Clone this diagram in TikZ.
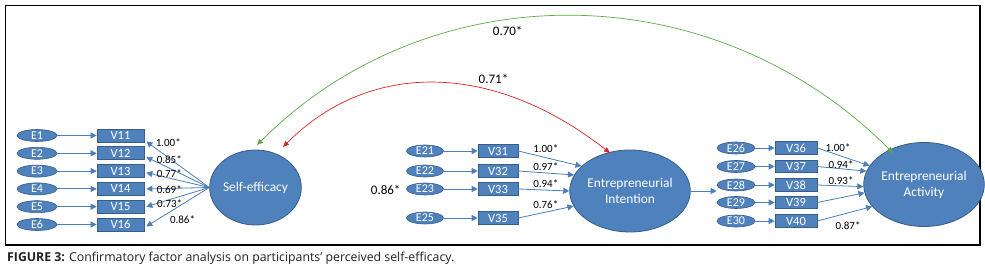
\documentclass[tikz,border=0pt]{standalone}
\usepackage{fontspec}
\setmainfont{Carlito}
\newfontfamily\capfont{Open Sans}
\usetikzlibrary{shapes.geometric,arrows.meta}
\definecolor{nfill}{RGB}{79,129,189}
\definecolor{ndraw}{RGB}{56,93,138}
\definecolor{lblue}{RGB}{74,126,187}
\definecolor{agreen}{RGB}{90,170,70}
\definecolor{ared}{RGB}{215,35,35}
\definecolor{captxt}{RGB}{35,31,32}
\begin{document}
\begin{tikzpicture}[x=1pt,y=-1pt,
  eell/.style={ellipse, fill=nfill, draw=ndraw, line width=0.6pt, text=white, inner sep=0pt, minimum height=12pt, font=\fontsize{12}{12}\selectfont},
  vbox/.style={rectangle, fill=nfill, draw=ndraw, line width=0.6pt, text=white, inner sep=0pt, minimum height=13pt, font=\fontsize{12.5}{12.5}\selectfont},
  lat/.style={ellipse, fill=nfill, draw=ndraw, line width=0.8pt, text=white, inner sep=0pt, align=center, font=\fontsize{13.4}{16}\selectfont},
  arr/.style={draw=lblue, line width=0.8pt, -{Triangle[length=6pt,width=6pt]}},
  lab/.style={font=\fontsize{11}{11}\selectfont, inner sep=0pt},
  biglab/.style={font=\fontsize{13}{13}\selectfont, inner sep=0pt},
  corr/.style={line width=0.7pt, {Triangle[length=6pt,width=5pt]}-{Triangle[length=6pt,width=5pt]}}
]
\useasboundingbox (0,0) rectangle (985,275);
\draw[line width=1.2pt] (5.5,5.5) rectangle (980,245);

% ---------- Self-efficacy ----------
\node[lat, minimum width=89pt, minimum height=75pt] (se) at (255.5,187.5) {Self-efficacy};
\foreach \i/\y/\s in {1/135.5/-6, 2/153.3/-3.7, 3/171.1/-1.6, 4/188.9/0, 5/206.7/0, 6/224.5/-2}{
  \node[eell, minimum width=40pt] (e\i) at (37,\y) {E\i};
  \node[vbox, minimum width=47pt] (v1\i) at (120.5,\y) {V1\i};
  \draw[arr] (e\i) -- (v1\i);
  \draw[arr] (se.west) -- ([xshift=2pt,yshift=\s pt]v1\i.east);
}
\node[lab] (l11) at (168.3,143) {1.00*};
\node[lab] (l12) at (169.3,160) {0.85*};
\node[lab] (l13) at (169.3,174) {0.77*};
\node[lab] (l14) at (169.3,189.7) {0.69*};
\node[lab] (l15) at (169.7,203.7) {0.73*};
\node[lab] (l16) at (182.5,220) {0.86*};

% ---------- Entrepreneurial Intention ----------
\node[lat, minimum width=104pt, minimum height=82pt] (ei) at (630,191) {Entrepreneurial\\Intention};
\foreach \i/\y/\a in {21/151/153, 22/171/164, 23/189/180, 25/218/195}{
  \pgfmathtruncatemacro{\vv}{\i+10}
  \node[eell, minimum width=37pt] (e\i) at (425,\y) {E\i};
  \node[vbox, minimum width=40pt, minimum height=12.5pt] (v\vv) at (498,\y) {V\vv};
  \draw[arr] (e\i) -- (v\vv);
  \draw[arr] (v\vv.east) -- (ei.\a);
}
\node[lab] (l31) at (545.8,149) {1.00*};
\node[lab] (l32) at (545.8,166.5) {0.97*};
\node[lab] (l33) at (545.8,184) {0.94*};
\node[lab] (l35) at (545.8,205) {0.76*};
\node[biglab] (l23) at (385.7,190) {0.86*};

% ---------- Entrepreneurial Activity ----------
\node[lat, minimum width=110pt, minimum height=84pt] (ea) at (924,184.5) {Entrepreneurial\\Activity};
\foreach \i/\y/\a in {26/148/161, 27/166.5/167, 28/185/182, 29/202.5/188, 30/221/203}{
  \pgfmathtruncatemacro{\vv}{\i+10}
  \node[eell, minimum width=38pt] (e\i) at (736,\y) {E\i};
  \node[vbox, minimum width=42pt, minimum height=12.5pt] (v\vv) at (796,\y) {V\vv};
  \draw[arr] (e\i) -- (v\vv);
  \draw[arr] (v\vv.east) -- (ea.\a);
}
\node[lab] (l36) at (838,148) {1.00*};
\node[lab] (l37) at (841,165) {0.94*};
\node[lab] (l38) at (841,180.5) {0.93*};
\node[lab] (l40) at (848,226) {0.87*};

\draw[arr] (ei.east) -- (ei.east -| e28.west);

% ---------- correlations ----------
\coordinate (g1) at (257,145);
\coordinate (g2) at (893,153);
\draw[corr, agreen] (g1) .. controls (430,-28) and (712,-28) .. (g2);
\coordinate (r1) at (283,147);
\coordinate (r2) at (610,153);
\draw[corr, ared] (r1) .. controls (369,60.7) and (492,60.7) .. (r2);
\node[biglab] (l70) at (507.7,30.5) {0.70*};
\node[biglab] (l71) at (493.5,78.7) {0.71*};

% ---------- caption ----------
\node[anchor=west, inner sep=0pt, text=captxt, font=\capfont\fontsize{12.3}{12.3}\selectfont] (cap) at (7,258.5)
  {\textbf{FIGURE 3:} Confirmatory factor analysis on participants’ perceived self-efficacy.};
\end{tikzpicture}
\end{document}
